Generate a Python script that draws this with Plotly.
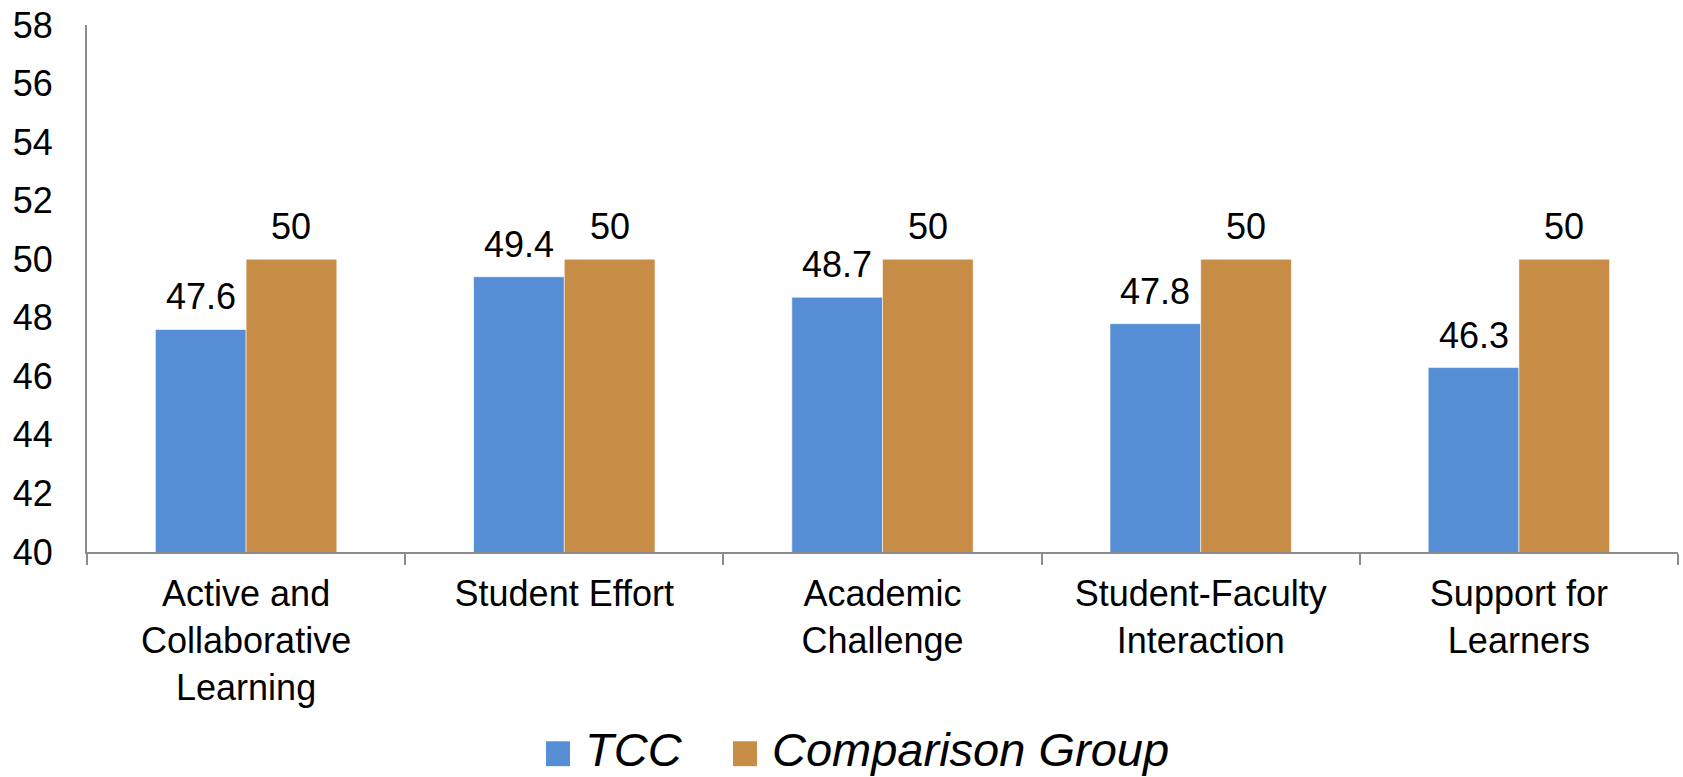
import plotly.graph_objects as go

# Benchmark scores by category
categories = [
    "Active and<br>Collaborative<br>Learning",
    "Student Effort",
    "Academic<br>Challenge",
    "Student-Faculty<br>Interaction",
    "Support for<br>Learners",
]
series_names = ["TCC", "Comparison Group"]
tcc_values = [47.6, 49.4, 48.7, 47.8, 46.3]
comparison_values = [50, 50, 50, 50, 50]
y_ticks = [40, 42, 44, 46, 48, 50, 52, 54, 56, 58]

colors = ["#558ED5", "#C78C45"]
font_family = "Liberation Sans, Arial, sans-serif"
axis_color = "#8C8C8C"
label_size = 36

W, H = 1683, 777
margin = dict(l=87, r=5, t=23, b=225)
plot_w = W - margin["l"] - margin["r"]
plot_h = H - margin["t"] - margin["b"]
bargap = 0.43
# horizontal offset of each bar's centre from its category centre, in px
bar_w = plot_w / len(categories) * (1 - bargap) / 2
bar_offsets = [-bar_w / 2, bar_w / 2]

fig = go.Figure()
all_values = [tcc_values, comparison_values]
for name, vals, col in zip(series_names, all_values, colors):
    fig.add_trace(go.Bar(
        x=categories,
        y=vals,
        name=name,
        marker=dict(color=col, line=dict(color="rgba(255,255,255,0.55)", width=1)),
        showlegend=False,
    ))

# value labels above each bar
for vals, dx in zip(all_values, bar_offsets):
    for cat, v in zip(categories, vals):
        fig.add_annotation(
            x=cat, y=v, xref="x", yref="y",
            text=f"{v:g}", showarrow=False,
            xanchor="center", yanchor="bottom",
            xshift=dx, yshift=10,
            font=dict(family=font_family, size=label_size, color="#000000"),
        )

fig.update_layout(
    width=W,
    height=H,
    margin=margin,
    paper_bgcolor="white",
    plot_bgcolor="white",
    barmode="group",
    bargap=bargap,
    bargroupgap=0,
    font=dict(family=font_family, size=label_size, color="#000000"),
    showlegend=False,
)

fig.update_yaxes(
    range=[40, 58],
    tickvals=y_ticks,
    ticktext=[str(t) for t in y_ticks],
    showgrid=False,
    zeroline=False,
    showline=True,
    linecolor=axis_color,
    linewidth=2,
    ticks="",
    ticklabelstandoff=25,
    tickfont=dict(family=font_family, size=label_size, color="#000000"),
)
fig.update_xaxes(
    type="category",
    showgrid=False,
    showline=True,
    linecolor=axis_color,
    linewidth=2,
    ticks="outside",
    tickson="boundaries",
    ticklen=11,
    tickwidth=2,
    tickcolor=axis_color,
    ticklabelstandoff=9,
    tickfont=dict(family=font_family, size=label_size, color="#000000"),
)

# Legend drawn below the chart: coloured swatches followed by italic labels
def px_x(px):
    return (px - margin["l"]) / plot_w

def px_y(py):
    return (H - margin["b"] - py) / plot_h

swatch_left = [546, 733]
text_left = [583, 770]
for name, col, sx, tx in zip(series_names, colors, swatch_left, text_left):
    fig.add_shape(
        type="rect", xref="paper", yref="paper",
        x0=px_x(sx), x1=px_x(sx + 24), y0=px_y(767), y1=px_y(742),
        fillcolor=col, line=dict(width=0),
    )
    fig.add_annotation(
        xref="paper", yref="paper", x=px_x(tx), y=px_y(750),
        xanchor="left", yanchor="middle", showarrow=False,
        text=f"<i>{name}</i>",
        font=dict(family=font_family, size=47, color="#000000"),
    )

fig.write_html("out.html")
